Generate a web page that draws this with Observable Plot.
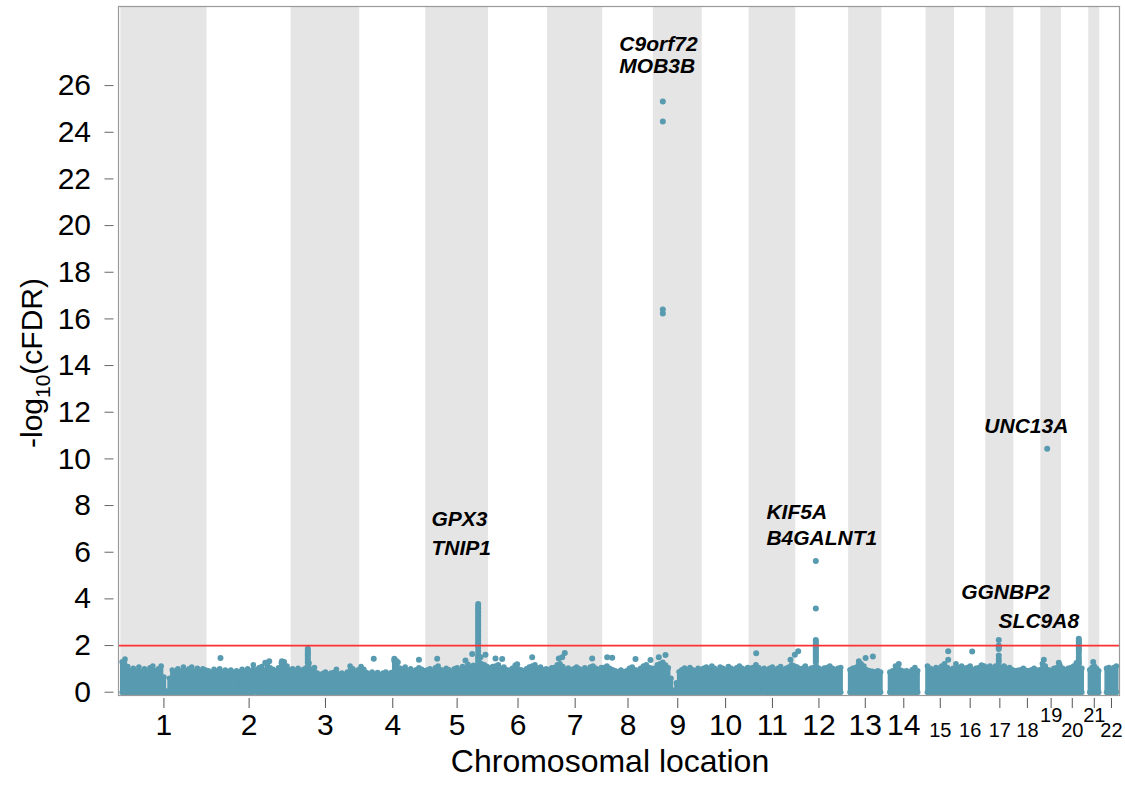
<!DOCTYPE html>
<html><head><meta charset="utf-8">
<script src="https://cdn.jsdelivr.net/npm/d3@7"></script>
<script src="https://cdn.jsdelivr.net/npm/@observablehq/plot@0.6"></script>
<style>
body{margin:0;background:#fff;}
#chart svg{display:block;}
</style>
</head><body><div id="chart"></div>
<script>
// ---------------- data ----------------
const chromosomes = ["1","2","3","4","5","6","7","8","9","10","11","12","13","14","15","16","17","18","19","20","21","22"];
const chromLengthMb = [249.25,243.20,198.02,191.15,180.92,171.12,159.14,146.36,141.21,135.53,135.01,133.85,115.17,107.35,102.53,90.35,81.20,78.08,59.13,63.03,48.13,51.30];
const chromFirstSnpMb = [0,0,0,0,0,0,0,0,0,0,0,0,19,19,20,0,0,0,0,0,16,16];

// upper edge of the dense cloud of SNPs, sampled evenly along each chromosome
const noiseTop = [
  [1.3,1.42,1.1,0.92,1.02,0.9,1.08,0.9,1.0,0.9,1.05,1.12,0.92,1.0,1.12,0.65,0.05,0.6,0.95,0.88,1.0,0.9,1.08,0.92,1.0,1.08,0.9,1.02,0.92,1.0,0.95],
  [0.92,0.85,0.98,0.9,1.0,0.86,0.95,0.88,0.95,0.84,0.92,0.86,0.98,0.88,1.0,0.92,1.18,0.95,1.05,1.1,0.95,1.15,1.05,0.98,0.92,1.05,1.25,1.3,1.12,0.95],
  [1.0,0.92,1.02,0.92,0.98,1.05,1.25,0.98,1.06,0.82,0.74,0.8,0.86,0.76,0.82,0.84,0.98,0.78,0.82,0.76,0.86,1.12,1.0,0.9,0.96],
  [1.1,0.98,0.84,0.78,0.86,0.76,0.84,0.74,0.82,0.86,0.78,0.84,1.35,1.25,1.04,0.98,1.08,0.92,1.0,0.9,0.96,1.05,0.98,0.92],
  [0.95,1.0,0.92,1.05,1.12,0.96,0.94,1.02,0.96,0.9,1.0,1.05,0.92,1.1,1.02,1.2,1.06,1.15,1.12,1.3,1.22,1.18,1.1],
  [1.02,1.1,1.12,1.18,1.02,1.08,0.96,0.94,1.02,1.15,1.0,0.96,0.92,1.0,1.08,1.12,1.18,1.02,1.08,0.96,1.0],
  [0.96,1.05,1.06,1.18,1.22,1.1,0.96,1.04,0.94,1.0,1.08,1.0,0.92,1.05,0.96,1.08,1.12,1.02,0.96,1.06],
  [1.06,1.12,1.02,0.96,0.92,0.88,0.95,0.86,0.92,1.02,1.08,0.96,0.94,1.02,1.12,1.18,1.06,1.02],
  [1.02,1.18,1.22,1.28,1.16,1.05,0.6,0.08,0.4,0.88,0.96,1.04,0.94,1.06,0.96,0.92,1.02,0.96],
  [1.02,1.08,0.96,1.12,1.02,0.94,1.08,1.02,0.96,1.1,1.02,0.96,1.05,1.12,1.02,0.96,1.06],
  [1.02,1.06,1.18,1.06,0.96,1.02,0.94,1.02,1.08,0.96,1.02,1.1,0.96,1.02,1.08,1.18,1.12],
  [1.08,1.0,1.02,1.12,0.96,1.02,1.06,1.12,1.02,0.96,1.04,1.06,1.12,1.02,0.96,1.02,1.06],
  [0.96,1.02,1.06,1.16,1.22,1.12,0.96,0.92,0.9,0.86,0.92,0.86],
  [0.86,0.92,1.12,1.02,0.94,0.9,0.92,0.86,0.96,1.06,0.92],
  [1.12,1.02,0.96,1.06,1.02,1.12,1.22,1.06,0.96,1.02],
  [1.22,1.06,1.12,1.02,1.06,1.12,0.96,1.02,1.06,1.16,1.12],
  [1.06,1.12,1.02,1.12,1.16,1.06,1.12,1.02,1.06,0.96],
  [0.92,0.94,0.96,1.02,0.94,0.92,0.96,1.02,0.94,0.96],
  [1.22,1.12,0.96,0.94,1.02,1.06,1.16],
  [1.02,0.96,1.02,1.06,1.12,1.26,1.22,1.02],
  [0.96,1.06,1.12,1.02,0.92],
  [1.02,1.06,0.96,1.06,1.12]
];

// SNPs standing out above the dense cloud
const hitChrom = [
  "2","2","2","2",
  "3","3","3","3","3","3","3","3",
  "4","4","4","4","4",
  "5","5","5","5","5",
  "5","5","5","5","5","5","5","5","5","5","5","5","5","5","5","5","5","5","5","5","5","5","5","5","5",
  "6","6","6","6",
  "7","7","7","7",
  "8","8","8","8",
  "9","9","9","9","9","9",
  "11","11","11",
  "12","12","12",
  "12","12","12","12","12","12","12","12","12","12","12","12","12",
  "13","13","13",
  "14",
  "15","15",
  "16",
  "17","17","17","17","17","17","17",
  "19","19","19",
  "20","20","20","20","20","20","20","20","20","20","20","20",
  "21"
];
const hitPosMb = [
  38.8,168.2,179.7,216.4,
  48,48,48,48,48,48,48,48,
  40.6,100,105,110,171.3,
  32.8,114.6,134,158,172.5,
  151.3,151.3,151.3,151.3,151.3,151.3,151.3,151.3,151.3,151.3,151.3,151.3,151.3,151.3,151.3,151.3,151.3,151.3,151.3,151.3,151.3,151.3,151.3,151.3,151.3,
  20.4,39.8,83.1,126.5,
  32.3,42.1,49.6,128.8,
  13,27.5,94.8,138.2,
  15.8,35.2,27.4,27.4,27.4,27.4,
  20.6,119.7,132.2,
  7,57.9,57.9,
  57.9,57.9,57.9,57.9,57.9,57.9,57.9,57.9,57.9,57.9,57.9,57.9,57.9,
  48.6,68,89,
  48.7,
  84.2,84.2,
  51,
  37.5,37.5,37.5,37.5,37.5,37.5,37.5,
  8.4,51.7,18.2,
  50.4,50.4,50.4,50.4,50.4,50.4,50.4,50.4,50.4,50.4,50.4,50.4,
  29
];
const hitValue = [
  1.47,1.26,1.33,1.33,
  1.86,1.78,1.7,1.62,1.55,1.45,1.35,1.25,
  1.43,1.43,1.35,1.28,1.39,
  1.43,1.36,1.64,1.5,1.61,
  3.78,3.7,3.6,3.5,3.42,3.3,3.2,3.1,3.0,2.9,2.8,2.7,2.6,2.5,2.4,2.3,2.2,2.1,2.0,1.9,1.75,1.6,1.5,1.4,1.3,
  1.45,1.42,1.2,1.5,
  1.45,1.5,1.68,1.45,
  1.5,1.48,1.42,1.38,
  1.5,1.6,25.32,24.46,16.4,16.23,
  1.67,1.39,1.61,
  1.76,5.62,3.59,
  2.24,2.16,2.08,2.0,1.92,1.84,1.76,1.68,1.6,1.52,1.44,1.36,1.28,
  1.33,1.47,1.53,
  1.21,
  1.76,1.39,
  1.74,
  2.24,2.0,1.92,1.85,1.57,1.42,1.3,
  1.39,1.26,10.43,
  2.29,2.22,2.15,2.08,2.0,1.92,1.84,1.75,1.64,1.5,1.38,1.29,
  1.29
];

// gene annotations (left edge in genome Mb, vertical centre in -log10 units)
const geneLabel   = ["C9orf72","MOB3B","GPX3","TNIP1","KIF5A","B4GALNT1","UNC13A","GGNBP2","SLC9A8"];
const geneLabelMb = [1441,1441,898,898,1866,1866,2496,2429,2537];
const geneLabelY  = [27.76,26.82,7.40,6.16,7.70,6.59,11.39,4.27,3.03];

const yTicks = [0,2,4,6,8,10,12,14,16,18,20,22,24,26];
const significanceLine = 2;
const raisedLabels = ["19","21"];
const smallLabels = ["15","16","17","18","19","20","21","22"];

// ---------------- derived tables ----------------
const chromOffset = [];
{ let s = 0; for (const L of chromLengthMb) { chromOffset.push(s); s += L; } }
const chromTable = chromosomes.map((c, i) => {
  const start = chromOffset[i] + chromFirstSnpMb[i];
  const end = chromOffset[i] + chromLengthMb[i];
  return {chrom: c, index: i, start, end, mid: (start + end) / 2};
});
const noise = [];
chromTable.forEach((c, i) => {
  const vals = noiseTop[i], n = vals.length;
  vals.forEach((v, k) => noise.push({x: c.start + (c.end - c.start) * (k + 0.5) / n, v}));
});
const hits = hitChrom.map((c, i) => ({x: chromOffset[chromosomes.indexOf(c)] + hitPosMb[i], v: hitValue[i]}));
const genes = geneLabel.map((g, i) => ({g, x: geneLabelMb[i], y: geneLabelY[i]}));
const bands = chromTable.filter(d => d.index % 2 === 0);

const teal = "#589bb0";
const font = "'Liberation Sans', Arial, Helvetica, sans-serif";

const plot = Plot.plot({
  width: 1125, height: 791,
  marginLeft: 118, marginRight: 6, marginTop: 6, marginBottom: 96,
  x: {domain: [-6.7, 2886.6], axis: null},
  y: {domain: [-0.141, 29.39], axis: null},
  style: {fontFamily: font, background: "#fff", color: "#000", overflow: "visible"},
  marks: [
    Plot.rect(bands, {x1: "start", x2: "end", fill: "#e5e5e5"}),
    Plot.ruleX(noise, {x: "x", y1: 0, y2: "v", stroke: teal, strokeWidth: 4.4}),
    Plot.dot(noise, {x: "x", y: 0, r: 2.8, fill: teal}),
    Plot.dot(noise, {x: "x", y: "v", r: 2.8, fill: teal}),
    Plot.dot(hits, {x: "x", y: "v", r: 3, fill: teal}),
    Plot.ruleY([significanceLine], {stroke: "#ff3030", strokeWidth: 1.8}),
    Plot.frame({stroke: "#9a9a9a", strokeWidth: 1.2}),
    Plot.axisY(yTicks, {tickSize: 9, tickPadding: 14, dx: -4.5, fontSize: 30, stroke: "#666", fill: "#000", tickFormat: d => String(d)}),
    Plot.axisX(chromTable.map(d => d.mid), {tickSize: 10, dy: 3, stroke: "#555", tickFormat: () => ""}),
    Plot.text(chromTable.filter(d => !smallLabels.includes(d.chrom)), {x: "mid", text: "chrom", frameAnchor: "bottom", dy: 39, fontSize: 30, fill: "#000"}),
    Plot.text(chromTable.filter(d => smallLabels.includes(d.chrom) && !raisedLabels.includes(d.chrom)), {x: "mid", text: "chrom", frameAnchor: "bottom", dy: 41, fontSize: 20, fill: "#000"}),
    Plot.text(chromTable.filter(d => raisedLabels.includes(d.chrom)), {x: "mid", text: "chrom", frameAnchor: "bottom", dy: 26, fontSize: 20, fill: "#000"}),
    Plot.text(genes, {x: "x", y: "y", text: "g", textAnchor: "start", fontSize: 21, fontWeight: "bold", fontStyle: "italic", fill: "#000"}),
    Plot.text(["Chromosomal location"], {frameAnchor: "bottom", dy: 76, dx: -9, fontSize: 32, fill: "#000"})
  ]
});

// y-axis title with a real subscript
const svg = d3.select(plot);
const t = svg.append("text")
  .attr("transform", "translate(42,363) rotate(-90)")
  .attr("text-anchor", "middle")
  .attr("font-family", font)
  .attr("font-size", 30)
  .attr("fill", "#000");
t.append("tspan").text("-log");
t.append("tspan").attr("font-size", 21).attr("dy", 8).text("10");
t.append("tspan").attr("dy", -8).text("(cFDR)");

document.getElementById("chart").appendChild(plot);
</script>
</body></html>
